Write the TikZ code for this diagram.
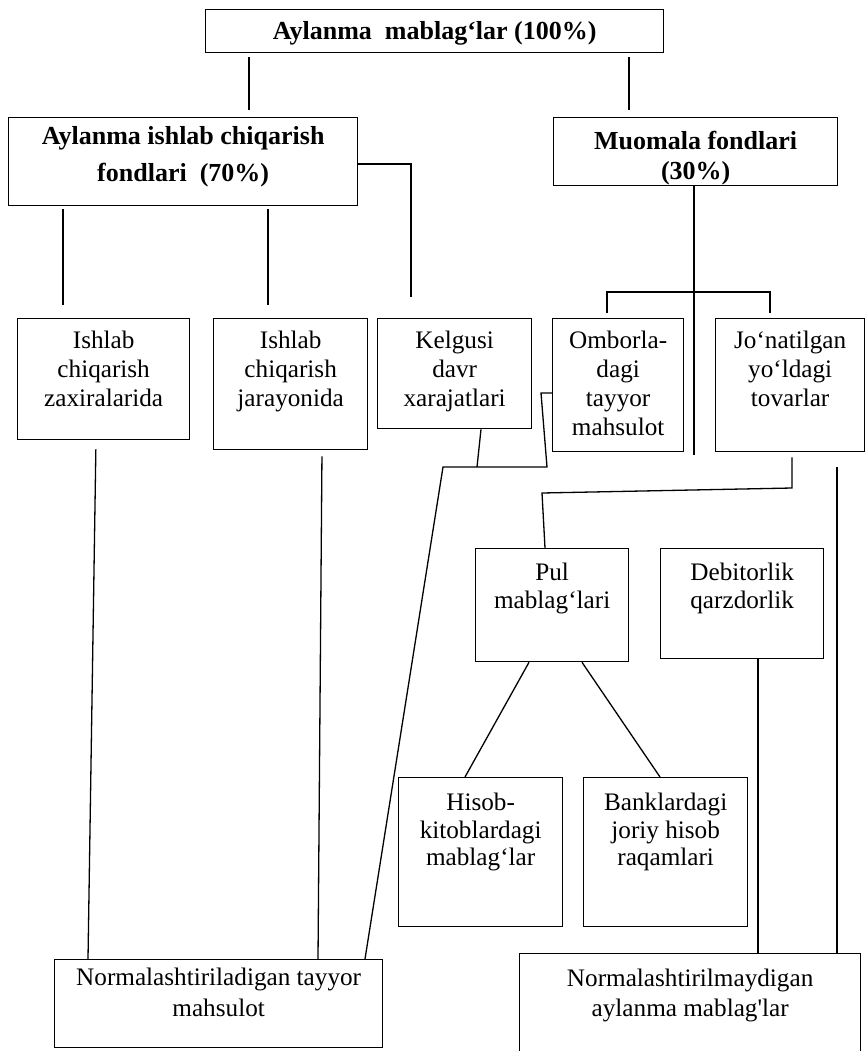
\documentclass[tikz,border=0pt]{standalone}
\usepackage{fontspec}
\setmainfont{Liberation Serif}

\begin{document}
\begin{tikzpicture}[x=1pt,y=-1pt,line width=1.3pt,
    box/.style={draw,anchor=north west,align=center,inner sep=0pt,font=\fontsize{25.2}{29}\selectfont},
    head/.style={box,font=\fontsize{26}{37}\bfseries\selectfont}]
\useasboundingbox (0,0) rectangle (866,1051);

\node[head,minimum width=458pt,text height=30pt,text depth=13pt] (top) at (205,9) {Aylanma\ \ mablag‘lar (100\%)};
\node[head,minimum width=349pt,text height=64pt,text depth=24pt] (ishlab) at (8,117) {Aylanma ishlab chiqarish\\fondlari\ \ (70\%)};
\node[head,font=\fontsize{26}{30}\bfseries\selectfont,minimum width=284pt,text height=62pt,text depth=6pt] (muomala) at (553,117) {Muomala fondlari\\(30\%)};

\node[box,minimum width=172pt,text height=88pt,text depth=33pt] (zax) at (17,318) {Ishlab\\chiqarish\\zaxiralarida};
\node[box,minimum width=154pt,text height=88pt,text depth=43pt] (jar) at (213,318) {Ishlab\\chiqarish\\jarayonida};
\node[box,minimum width=154pt,text height=88pt,text depth=22pt] (kel) at (377,318) {Kelgusi\\davr\\xarajatlari};
\node[box,minimum width=131pt,text height=117pt,text depth=16pt] (omb) at (552,318) {Omborla-\\dagi\\tayyor\\mahsulot};
\node[box,minimum width=149pt,text height=88pt,text depth=45pt] (jon) at (715,318) {Jo‘natilgan\\yo‘ldagi\\tovarlar};

\node[box,font=\fontsize{25.2}{28}\selectfont,minimum width=153pt,text height=60pt,text depth=53pt] (pul) at (475,548) {Pul\\mablag‘lari};
\node[box,font=\fontsize{25.2}{28}\selectfont,minimum width=163pt,text height=60pt,text depth=50pt] (deb) at (660,548) {Debitorlik\\qarzdorlik};
\node[box,font=\fontsize{25.2}{27.5}\selectfont,minimum width=164pt,text height=88pt,text depth=61pt] (hisob) at (398,777) {Hisob-\\kitoblardagi\\mablag‘lar};
\node[box,font=\fontsize{25.2}{27.5}\selectfont,minimum width=164pt,text height=88pt,text depth=61pt] (bank) at (583,777) {Banklardagi\\joriy hisob\\raqamlari};

\node[box,font=\fontsize{25.2}{31}\selectfont,minimum width=328pt,text height=57pt,text depth=31pt] (norm1) at (54,959) {Normalashtiriladigan tayyor\\mahsulot};
\node[box,font=\fontsize{25.2}{30}\selectfont,minimum width=341pt,text height=63pt,text depth=44pt] (norm2) at (519,953) {Normalashtirilmaydigan\\aylanma mablag{\addfontfeatures{Ligatures=TeXOff}'}lar};

\coordinate (mdown) at (694,455);
\coordinate (rtop) at (837,467);

\draw[shorten <=4pt,shorten >=7pt] (top.south -| 249,0) -- (ishlab.north -| 249,0);
\draw[shorten <=4pt,shorten >=7pt] (top.south -| 629,0) -- (muomala.north -| 629,0);
\draw[shorten <=3pt,shorten >=13pt] (ishlab.south -| 63,0) -- (zax.north -| 63,0);
\draw[shorten <=3pt,shorten >=13pt] (ishlab.south -| 268,0) -- (jar.north -| 268,0);
\draw[shorten >=21pt] (ishlab.east |- 0,164) -| (kel.north -| 411,0);
\draw (muomala.south -| mdown) -- (mdown);
\draw[shorten <=5pt,shorten >=5pt] (omb.north -| 607,0) |- (770,292) -- (jon.north -| 770,0);

\draw[shorten <=9pt] (zax.south -| 96,0) -- (norm1.north -| 88,0);
\draw[shorten <=6pt] (jar.south -| 322,0) -- (norm1.north -| 318,0);
\draw (kel.south -| 481,0) -- (477,467);
\draw (omb.west |- 0,393) -- (541,393) -- (547,467) -- (443,467) -- (norm1.north -| 365,0);
\draw[shorten <=5pt] (jon.south -| 792,0) -- (792,488) -- (542,493) -- (pul.north -| 545,0);
\draw (pul.south -| 529,0) -- (hisob.north -| 465,0);
\draw (pul.south -| 582,0) -- (bank.north -| 660,0);
\draw (deb.south -| 758,0) -- (norm2.north -| 758,0);
\draw (rtop) -- (norm2.north -| rtop);
\end{tikzpicture}
\end{document}
